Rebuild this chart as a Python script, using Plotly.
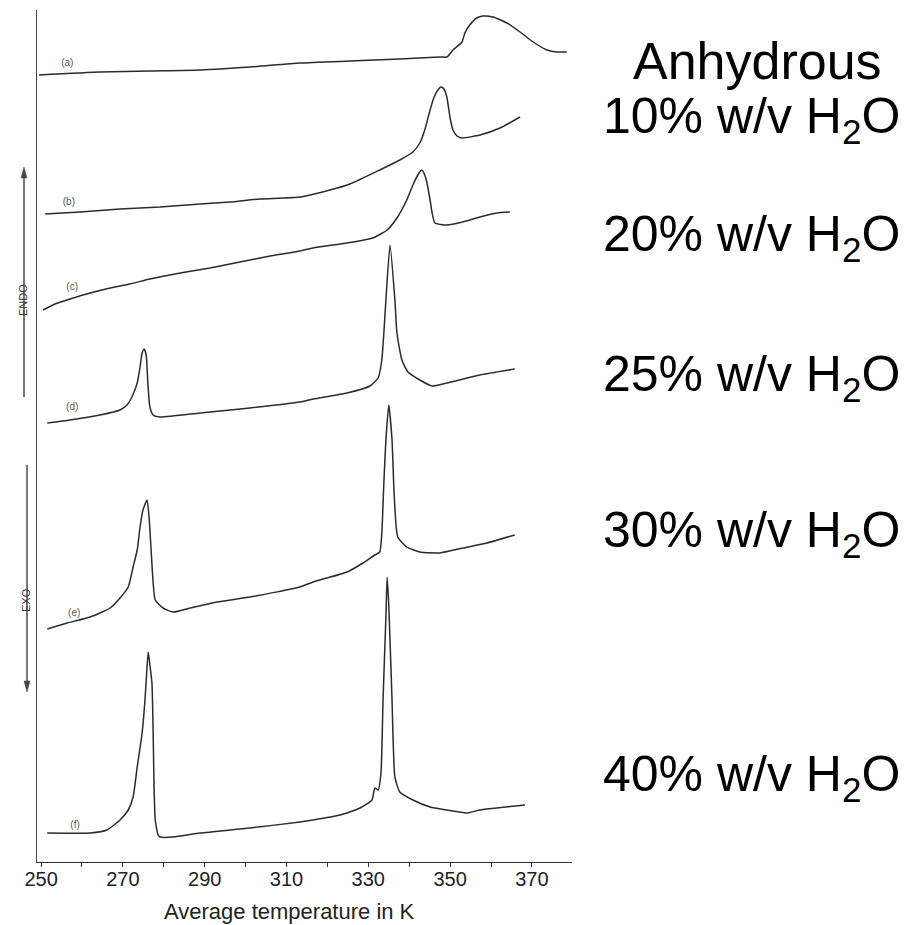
import plotly.graph_objects as go

# Temperature (K) and relative heat-flow signal (arbitrary units, offset per trace)
T_a = [249.5, 264.4, 276.6, 288.9, 301.1, 313.3, 325.5, 337.7, 347.5, 349.2, 350.7, 352.9,
       353.6, 354.8, 356.5, 358.0, 360.5, 363.9, 367.1, 370.3, 373.7, 376.1, 378.5]
S_a = [787, 790, 791, 792, 795, 799, 801, 803, 805, 805, 812, 820,
       829, 837, 844, 846, 845, 839, 830, 820, 812, 810, 810]

T_b = [251.0, 259.5, 269.3, 279.1, 288.9, 296.2, 303.5, 313.3, 320.6, 325.5, 332.8, 337.7,
       340.9, 342.6, 343.8, 345.1, 346.0, 347.0, 347.8, 348.5, 349.2, 350.0, 350.7, 351.7,
       352.9, 357.3, 362.2, 367.1]
S_b = [648, 650, 653, 655, 658, 660, 663, 665, 672, 678, 692, 702,
       710, 719, 732, 752, 764, 772, 775, 773, 765, 744, 732, 726,
       724, 727, 734, 745]

T_c = [250.5, 253.4, 257.1, 262.0, 266.9, 271.7, 276.6, 284.0, 291.3, 298.6, 306.0, 313.3,
       316.5, 324.8, 331.1, 334.6, 337.0, 339.4, 340.9, 342.1, 343.1, 343.8, 344.3, 345.1,
       345.6, 346.3, 349.2, 353.1, 357.3, 361.4, 364.6]
S_c = [552, 558, 563, 569, 574, 578, 583, 589, 594, 600, 606, 611,
       614, 619, 624, 632, 644, 662, 677, 687, 692, 687, 680, 662,
       649, 639, 637, 640, 645, 649, 650]

T_d = [251.5, 257.1, 264.4, 269.3, 271.0, 272.2, 273.5, 274.2, 274.7, 275.2, 275.7, 276.1,
       276.6, 277.4, 279.1, 288.9, 301.1, 313.3, 316.5, 324.8, 330.4, 332.4, 333.3, 333.8,
       334.3, 335.3, 336.5, 337.0, 338.2, 339.7, 342.6, 345.6, 349.2, 357.3, 365.8]
S_d = [439, 442, 447, 452, 457, 465, 479, 495, 509, 513, 507, 479,
       455, 447, 445, 449, 454, 460, 463, 469, 476, 484, 502, 529,
       562, 617, 562, 529, 502, 490, 482, 476, 479, 487, 493]

T_e = [251.5, 256.4, 262.0, 266.9, 269.3, 271.3, 272.5, 273.5, 274.2, 274.9, 275.9, 276.4,
       276.9, 277.4, 277.9, 279.8, 282.3, 286.4, 293.0, 301.1, 313.3, 316.5, 324.8, 328.7,
       331.6, 332.8, 333.3, 333.8, 334.3, 335.0, 335.8, 336.3, 337.2, 339.4, 342.6, 347.5,
       353.1, 359.0, 365.8]
S_e = [233, 239, 245, 254, 264, 275, 295, 312, 335, 352, 362, 345,
       312, 279, 262, 254, 250, 254, 260, 265, 275, 280, 290, 299,
       307, 310, 329, 379, 422, 457, 422, 369, 325, 315, 310, 309,
       314, 319, 327]

T_f = [251.5, 262.0, 266.1, 269.3, 271.3, 272.5, 273.5, 274.7, 275.4, 275.9, 276.2, 276.6,
       277.1, 277.4, 277.6, 277.9, 278.6, 279.1, 282.3, 288.9, 301.1, 313.3, 316.5, 323.1,
       328.0, 330.9, 331.6, 332.4, 333.1, 333.6, 334.3, 334.6, 335.0, 335.8, 336.5, 337.7,
       340.9, 345.1, 349.2, 354.1, 357.3, 361.4, 368.3]
S_f = [29, 29, 32, 42, 52, 65, 95, 129, 162, 195, 210, 197,
       179, 129, 79, 42, 27, 25, 25, 29, 34, 40, 42, 47,
       54, 62, 74, 72, 89, 162, 245, 285, 257, 162, 85, 70,
       62, 55, 52, 49, 52, 54, 57]

curve_tags = ["(a)", "(b)", "(c)", "(d)", "(e)", "(f)"]
tag_T = [256.4, 256.8, 257.6, 257.6, 258.1, 258.3]
tag_S = [799, 660, 575, 455, 249, 37]

sample_labels = ["Anhydrous", "10% w/v H<sub>2</sub>O", "20% w/v H<sub>2</sub>O",
                 "25% w/v H<sub>2</sub>O", "30% w/v H<sub>2</sub>O", "40% w/v H<sub>2</sub>O"]

tick_values = [250, 270, 290, 310, 330, 350, 370]
tick_text = ["250", "270", "290", "310", "330", "350", "370"]

W, H = 920, 925
FONT = "Liberation Sans, Arial, sans-serif"

fig = go.Figure()
for T, S in [(T_a, S_a), (T_b, S_b), (T_c, S_c), (T_d, S_d), (T_e, S_e), (T_f, S_f)]:
    fig.add_trace(go.Scatter(x=T, y=S, mode="lines",
                             line=dict(color="#2b2b2b", width=1.5, shape="spline", smoothing=0.5),
                             showlegend=False, hoverinfo="skip"))

fig.add_trace(go.Scatter(x=tag_T, y=tag_S, mode="text", text=curve_tags,
                         textfont=dict(family=FONT, size=10, color="#555555"),
                         showlegend=False, hoverinfo="skip"))

def px(x):
    return x / W

def py(y):
    return 1 - y / H

ann = []
# right-hand sample labels
label_y = [61, 119, 237, 377, 533, 777]
for i, (txt, yy) in enumerate(zip(sample_labels, label_y)):
    if i == 0:
        ann.append(dict(x=px(757), y=py(yy), xref="paper", yref="paper", text=txt,
                        showarrow=False, xanchor="center", yanchor="middle",
                        font=dict(family=FONT, size=52, color="#000000")))
    else:
        ann.append(dict(x=px(601), y=py(yy), xref="paper", yref="paper", text=txt,
                        showarrow=False, xanchor="left", yanchor="middle",
                        font=dict(family=FONT, size=50, color="#000000")))

# axis title
ann.append(dict(x=px(289), y=py(911), xref="paper", yref="paper",
                text="Average temperature in K", showarrow=False,
                xanchor="center", yanchor="middle",
                font=dict(family=FONT, size=22, color="#222222")))

# ENDO / EXO labels
ann.append(dict(x=px(15), y=py(282), xref="paper", yref="paper", text="ENDO",
                showarrow=False, textangle=-90,
                font=dict(family=FONT, size=11, color="#333333")))
ann.append(dict(x=px(18), y=py(600), xref="paper", yref="paper", text="EXO",
                showarrow=False, textangle=-90,
                font=dict(family=FONT, size=11, color="#333333")))

# ENDO / EXO arrows as shapes
shapes = [
    dict(type="line", xref="paper", yref="paper", x0=px(24), x1=px(24), y0=py(397), y1=py(176),
         line=dict(color="#555555", width=1.6)),
    dict(type="path", xref="paper", yref="paper",
         path=f"M {px(24)},{py(167)} L {px(21)},{py(178)} L {px(27)},{py(178)} Z",
         fillcolor="#444444", line=dict(color="#444444", width=0.5)),
    dict(type="line", xref="paper", yref="paper", x0=px(27), x1=px(27), y0=py(465), y1=py(683),
         line=dict(color="#555555", width=1.6)),
    dict(type="path", xref="paper", yref="paper",
         path=f"M {px(27)},{py(692)} L {px(24)},{py(681)} L {px(30)},{py(681)} Z",
         fillcolor="#444444", line=dict(color="#444444", width=0.5)),
]

fig.update_layout(
    width=W, height=H,
    margin=dict(l=0, r=0, t=0, b=0),
    paper_bgcolor="white", plot_bgcolor="white",
    annotations=ann,
    shapes=shapes,
    showlegend=False,
    xaxis=dict(domain=[37 / W, 572 / W], range=[249.0, 379.8],
               tickvals=tick_values, ticktext=tick_text,
               ticks="outside", ticklen=4, tickwidth=1, tickcolor="#333333",
               minor=dict(tickvals=[260, 280, 300, 320, 340, 360], ticks="outside",
                          ticklen=4, tickwidth=1, tickcolor="#333333", showgrid=False),
               ticklabelstandoff=-5,
               showline=True, linecolor="#333333", linewidth=1.3,
               showgrid=False, zeroline=False, automargin=False,
               tickfont=dict(family=FONT, size=20, color="#222222")),
    yaxis=dict(domain=[1 - 862 / H, 1 - 10 / H], range=[0, 852],
               showticklabels=False, ticks="", showgrid=False, zeroline=False,
               showline=True, linecolor="#444444", linewidth=1.3, automargin=False),
)

fig.write_html("out.html")
